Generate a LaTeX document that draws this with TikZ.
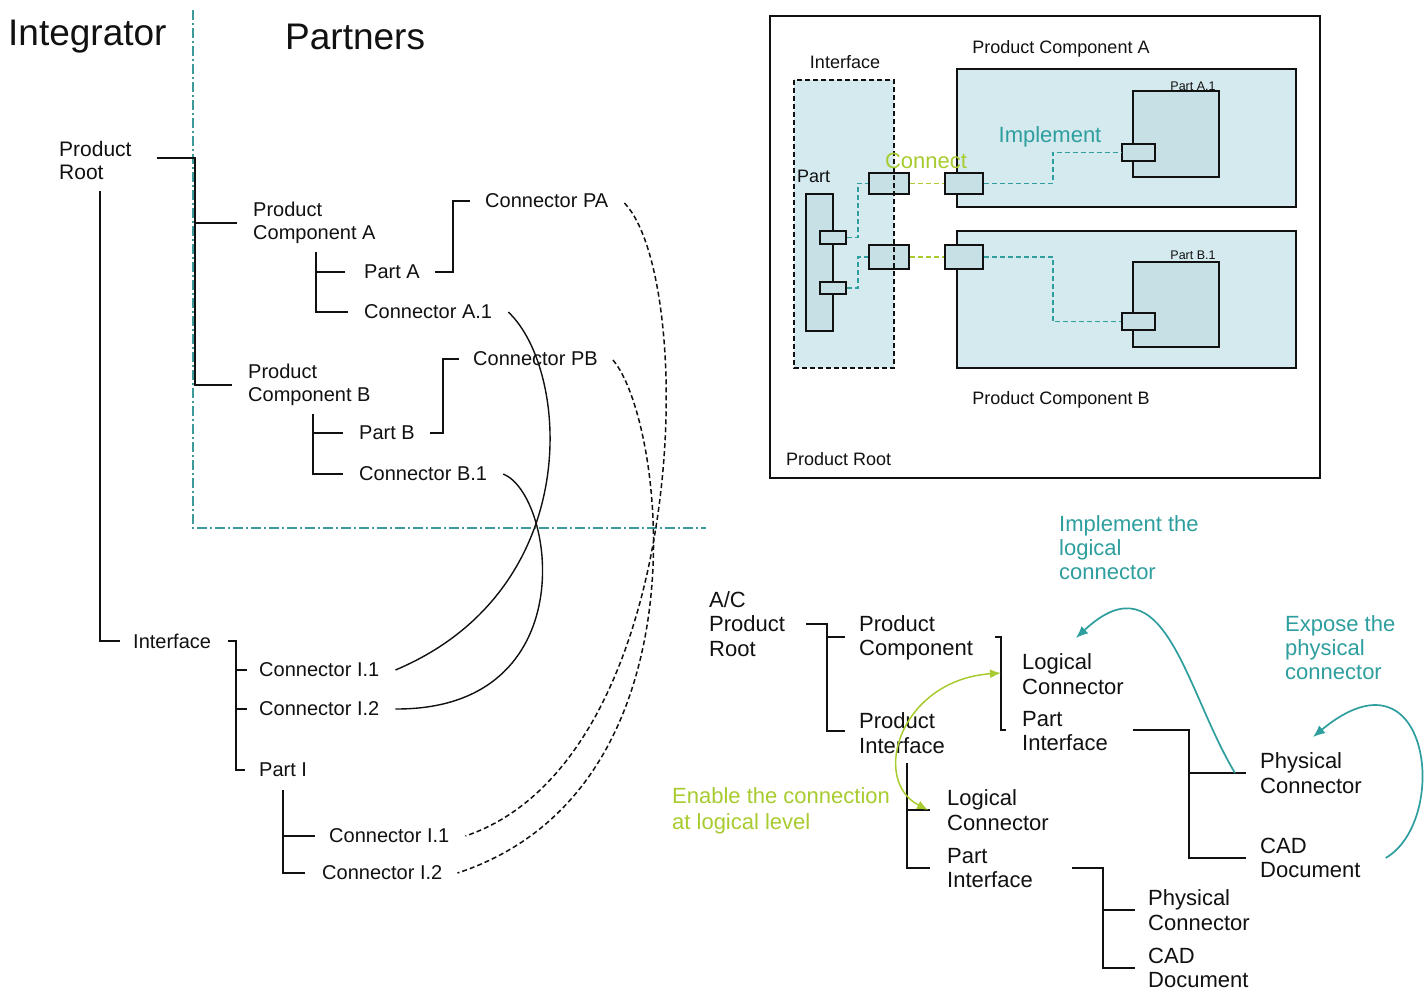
\documentclass[tikz,border=0pt]{standalone}
\usepackage{fontspec}
\setmainfont{Liberation Sans}
\usetikzlibrary{calc,arrows.meta}
\definecolor{pdmInk}{HTML}{111111}
\definecolor{pdmTeal}{HTML}{2E9E9E}
\definecolor{pdmLime}{HTML}{A8CC30}
\definecolor{pdmSep}{HTML}{3D9A9A}
\definecolor{pdmFill}{HTML}{D4EAEE}
\definecolor{pdmPort}{HTML}{C6E0E5}

\begin{document}
\begin{tikzpicture}[
    x=1pt, y=-1pt,
    pdm tree/.style={draw=pdmInk, line width=1.6pt},
    pdm link/.style={draw=pdmInk, line width=1.4pt},
    pdm dashlink/.style={draw=pdmInk, line width=1.5pt, dash pattern=on 5pt off 3pt},
    pdm sep/.style={draw=pdmSep, line width=1.4pt, dash pattern=on 10pt off 3pt on 2pt off 3pt},
    pdm name/.style={text=pdmInk, font=\fontsize{20}{23}\selectfont, inner sep=0pt, align=left, anchor=west},
    pdm big/.style={pdm name, font=\fontsize{22}{24.5}\selectfont},
    pdm note/.style={inner sep=0pt, align=left, anchor=west, font=\fontsize{22}{24}\selectfont},
    pdm title/.style={text=pdmInk, font=\fontsize{37}{40}\selectfont, inner sep=0pt, anchor=west},
    pdm box/.style={draw=pdmInk, line width=1.7pt, fill=pdmFill},
    pdm port/.style={draw=pdmInk, line width=1.7pt, fill=pdmPort, rectangle, inner sep=0pt},
    pdm small/.style={text=pdmInk, font=\fontsize{18}{20}\selectfont, inner sep=0pt},
    pdm wire/.style={line width=1.5pt, dash pattern=on 5pt off 3pt},
    pdm arrow/.style={line width=1.7pt, -{Latex[length=12pt,width=10pt]}},
    pdm both/.style={line width=1.5pt, {Latex[length=11pt,width=9pt]}-{Latex[length=11pt,width=9pt]}},
]
  \useasboundingbox[fill=white] (0,0) rectangle (1427,992);

  % Separadores.
  \draw[pdm sep] (193,10) -- (193,528) -- (706,528);

  % Arvore do integrador.
  \node[pdm title] (integrator) at (8,37) {Integrator};
  \node[pdm title] (partners) at (285,37) {Partners};

  \node[pdm name, font=\fontsize{21}{23}\selectfont] (root) at (59,160) {Product\\Root};
  \node[pdm name] (pca) at (253,223) {Product\\Component A};
  \node[pdm name] (parta) at (364,272) {Part A};
  \node[pdm name] (cpa) at (485,201) {Connector PA};
  \node[pdm name] (ca1) at (364,312) {Connector A.1};
  \node[pdm name] (pcb) at (248,385) {Product\\Component B};
  \node[pdm name] (partb) at (359,433) {Part B};
  \node[pdm name] (cpb) at (473,359) {Connector PB};
  \node[pdm name] (cb1) at (359,474) {Connector B.1};
  \node[pdm name] (intf) at (133,641) {Interface};
  \node[pdm name] (ci1) at (259,670) {Connector I.1};
  \node[pdm name] (ci2) at (259,709) {Connector I.2};
  \node[pdm name] (parti) at (259,770) {Part I};
  \node[pdm name] (cj1) at (329,836) {Connector I.1};
  \node[pdm name] (cj2) at (322,873) {Connector I.2};

  \draw[pdm tree] ($(root.east)+(25,-2)$) -| ($(pcb.west)+(-53,0)$) -- ($(pcb.west)+(-16,0)$);
  \draw[pdm tree] ($(pca.west)+(-58,0)$) -- ($(pca.west)+(-16,0)$);
  \draw[pdm tree] ($(root.south west)+(41,12)$) |- ($(intf.west)+(-13,0)$);
  \draw[pdm tree] ($(ca1.west)+(-48,-60)$) |- ($(ca1.west)+(-16,0)$);
  \draw[pdm tree] ($(parta.west)+(-48,0)$) -- ($(parta.west)+(-19,0)$);
  \draw[pdm tree] ($(parta.east)+(15,0)$) -| ($(cpa.west)+(-32,0)$) -- ($(cpa.west)+(-15,0)$);
  \draw[pdm tree] ($(cb1.west)+(-46,-60)$) |- ($(cb1.west)+(-16,0)$);
  \draw[pdm tree] ($(partb.west)+(-46,0)$) -- ($(partb.west)+(-16,0)$);
  \draw[pdm tree] ($(partb.east)+(15,0)$) -| ($(cpb.west)+(-30,0)$) -- ($(cpb.west)+(-14,0)$);
  \draw[pdm tree] ($(intf.east)+(17,0)$) -| ($(parti.west)+(-23,0)$) -- ($(parti.west)+(-14,0)$);
  \draw[pdm tree] ($(ci1.west)+(-23,0)$) -- ($(ci1.west)+(-12,0)$);
  \draw[pdm tree] ($(ci2.west)+(-23,0)$) -- ($(ci2.west)+(-12,0)$);
  \draw[pdm tree] ($(cj2.west)+(-39,-83)$) |- ($(cj2.west)+(-17,0)$);
  \draw[pdm tree] ($(cj1.west)+(-46,0)$) -- ($(cj1.west)+(-14,0)$);

  % Ligacoes entre conectores.
  \draw[pdm link] ($(ca1.east)+(16,0)$) .. controls ($(ca1.east)+(78,58)$) and ($(ci1.east)+(206,-80)$) .. ($(ci1.east)+(16,0)$);
  \draw[pdm link] ($(cb1.east)+(16,0)$) .. controls ($(cb1.east)+(68,21)$) and ($(ci2.east)+(206,1)$) .. ($(ci2.east)+(16,0)$);
  \draw[pdm dashlink] ($(cpa.east)+(16,2)$) .. controls ($(cpa.east)+(90,79)$) and ($(cj1.east)+(241,-76)$) .. ($(cj1.east)+(16,0)$);
  \draw[pdm dashlink] ($(cpb.east)+(15,1)$) .. controls ($(cpb.east)+(67,61)$) and ($(cj2.east)+(268,-83)$) .. ($(cj2.east)+(15,0)$);

  % Quadro do produto.
  \draw[draw=pdmInk, line width=1.7pt, fill=white] (770,16) rectangle (1320,478);
  \draw[pdm box] (957,69) rectangle (1296,207);
  \draw[pdm box] (957,231) rectangle (1296,368);
  \fill[pdmFill] (794,80) rectangle (894,368);
  \draw[pdm box, fill=pdmPort] (1133,91) rectangle (1219,177);
  \draw[pdm box, fill=pdmPort] (1133,262) rectangle (1219,347);
  \draw[pdm box, fill=pdmPort] (806,194) rectangle (833,331);

  \node[pdm port, minimum width=26pt, minimum height=13pt] (pc1) at (833,237.5) {};
  \node[pdm port, minimum width=26pt, minimum height=12pt] (pc2) at (833,288) {};
  \node[pdm port, minimum width=40pt, minimum height=21pt] (ic1) at (889,183.5) {};
  \node[pdm port, minimum width=40pt, minimum height=24pt] (ic2) at (889,257) {};
  \node[pdm port, minimum width=38pt, minimum height=21pt] (ac1) at (964,183.5) {};
  \node[pdm port, minimum width=38pt, minimum height=24pt] (bc1) at (964,257) {};
  \node[pdm port, minimum width=33pt, minimum height=17pt] (a11) at (1138.5,152.5) {};
  \node[pdm port, minimum width=33pt, minimum height=17pt] (b11) at (1138.5,321.5) {};

  \draw[pdm wire, pdmTeal] (pc1.east) -- ++(11,0) |- (ic1.west);
  \draw[pdm wire, pdmTeal] (pc2.east) -- ++(11,0) |- (ic2.west);
  \draw[pdm wire, pdmLime] (ic1.east) -- (ac1.west);
  \draw[pdm wire, pdmLime] (ic2.east) -- (bc1.west);
  \draw[pdm wire, pdmTeal] (ac1.east) -- ++(69,0) |- (a11.west);
  \draw[pdm wire, pdmTeal] (bc1.east) -- ++(69,0) |- (b11.west);

  \draw[draw=pdmInk, line width=1.7pt, dash pattern=on 5pt off 3pt] (794,80) rectangle (894,368);

  \node[pdm small] (lbl-intf) at (845,62) {Interface};
  \node[pdm small, anchor=west] (lbl-part) at (797,176) {Part};
  \node[pdm small] (lbl-pca) at (1061,49) {Product Component A};
  \node[pdm small] (lbl-pcb) at (1061,400) {Product Component B};
  \node[pdm small, anchor=west] (lbl-root) at (786,459) {Product Root};
  \node[pdm small, font=\fontsize{12.5}{14}\selectfont] (lbl-a11) at (1193,86) {Part A.1};
  \node[pdm small, font=\fontsize{12.5}{14}\selectfont] (lbl-b11) at (1193,255) {Part B.1};
  \node[pdm small, text=pdmTeal, font=\fontsize{22}{24}\selectfont] (lbl-impl) at (1050,137) {Implement};
  \node[pdm small, text=pdmLime, font=\fontsize{22}{24}\selectfont] (lbl-conn) at (926,161) {Connect};

  % Arvore do modelo.
  \node[pdm big] (acroot) at (709,624) {A/C\\Product\\Root};
  \node[pdm big] (pcomp) at (859,638) {Product\\Component};
  \node[pdm big] (pintf) at (859,733) {Product\\Interface};
  \node[pdm big] (lc1) at (1022,674) {Logical\\Connector};
  \node[pdm big] (pi1) at (1022,731) {Part\\Interface};
  \node[pdm big] (phc1) at (1260,773) {Physical\\Connector};
  \node[pdm big] (cad1) at (1260,858) {CAD\\Document};
  \node[pdm big] (lc2) at (947,810) {Logical\\Connector};
  \node[pdm big] (pi2) at (947,868) {Part\\Interface};
  \node[pdm big] (phc2) at (1148,910) {Physical\\Connector};
  \node[pdm big] (cad2) at (1148,968) {CAD\\Document};

  \draw[pdm tree] ($(acroot.east)+(21,0)$) -| ($(pintf.west)+(-32,-2)$) -- ($(pintf.west)+(-14,-2)$);
  \draw[pdm tree] ($(pcomp.west)+(-32,-1)$) -- ($(pcomp.west)+(-14,-1)$);
  \draw[pdm tree] ($(lc1.west)+(-27,-37)$) -| ($(pi1.west)+(-21,-1)$) -- ($(pi1.west)+(-16,-1)$);
  \draw[pdm tree] ($(pi1.east)+(25,-1)$) -| ($(cad1.west)+(-71,0)$) -- ($(cad1.west)+(-14,0)$);
  \draw[pdm tree] ($(phc1.west)+(-71,0)$) -- ($(phc1.west)+(-14,0)$);
  \draw[pdm tree] ($(pi2.west)+(-40,-105)$) |- ($(pi2.west)+(-17,0)$);
  \draw[pdm tree] ($(lc2.west)+(-40,0)$) -- ($(lc2.west)+(-17,0)$);
  \draw[pdm tree] ($(pi2.east)+(39,0)$) -| ($(cad2.west)+(-45,0)$) -- ($(cad2.west)+(-13,0)$);
  \draw[pdm tree] ($(phc2.west)+(-45,0)$) -- ($(phc2.west)+(-13,0)$);

  % Notas.
  \node[pdm note, text=pdmTeal] (implnote) at (1059,548) {Implement the\\logical\\connector};
  \node[pdm note, text=pdmTeal] (exposenote) at (1285,648) {Expose the\\physical\\connector};
  \node[pdm note, text=pdmLime, font=\fontsize{22}{25.5}\selectfont] (enablenote) at (672,811) {Enable the connection\\at logical level};

  \draw[pdm arrow, pdmTeal] ($(phc1.west)+(-25,0)$) .. controls ($(phc1.west)+(-75,-83)$) and ($(lc1.west)+(143,-119)$) .. ($(lc1.west)+(54,-36)$);
  \draw[pdm arrow, pdmTeal] ($(cad1.east)+(25,0)$) .. controls ($(cad1.east)+(90,-38)$) and ($(phc1.west)+(170,-133)$) .. ($(phc1.west)+(53,-36)$);
  \draw[pdm both, pdmLime] ($(lc1.west)+(-21,-1)$) .. controls ($(lc1.west)+(-122,6)$) and ($(lc2.west)+(-77,-30)$) .. ($(lc2.west)+(-19,0)$);
\end{tikzpicture}
\end{document}
